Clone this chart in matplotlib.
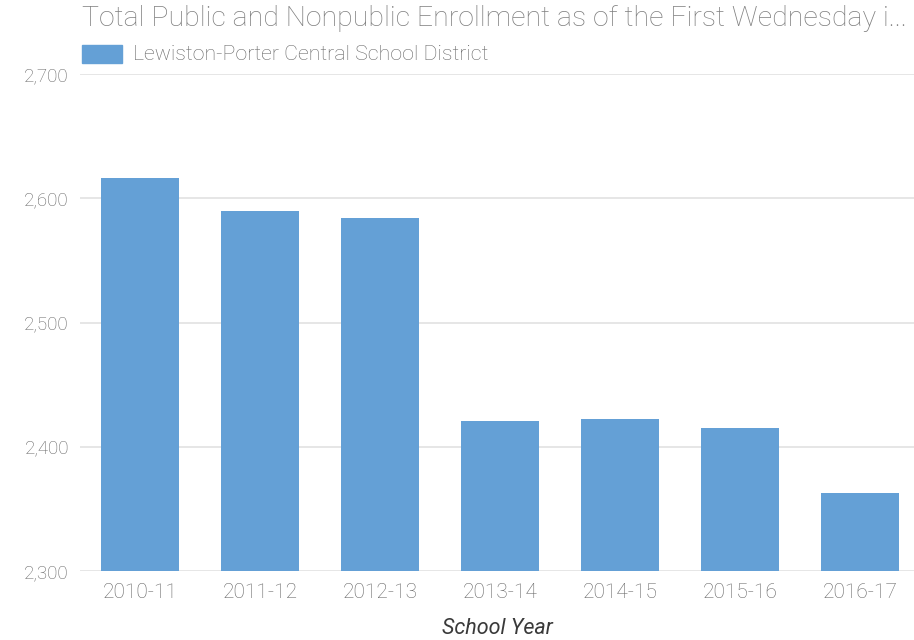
import matplotlib
matplotlib.use('Agg')
import matplotlib.pyplot as plt
from matplotlib.patches import Rectangle

# data
years = ['2010-11', '2011-12', '2012-13', '2013-14', '2014-15', '2015-16', '2016-17']
enrollment = [2616, 2590, 2584, 2421, 2422, 2415, 2363]
y_ticks = [2300, 2400, 2500, 2600, 2700]
series_name = 'Lewiston-Porter Central School District'
title = 'Total Public and Nonpublic Enrollment as of the First Wednesday i...'

plt.rcParams['font.family'] = ['Roboto', 'DejaVu Sans']

bar_color = '#64a0d6'
text_grey = '#666666'

fig = plt.figure(figsize=(9.14, 6.4), dpi=100)
ax = fig.add_axes([80 / 914, 1 - 571 / 640, 1 - 80 / 914, (571 - 74) / 640])

x = range(len(years))
ax.bar(x, enrollment, width=0.65, color=bar_color, zorder=2)

ax.set_ylim(2300, 2700)
ax.set_xlim(-0.5, 6.45)
ax.set_yticks(y_ticks)
ax.set_yticklabels(['{:,}'.format(v) for v in y_ticks], fontsize=13.5, fontweight='light')
ax.set_xticks(list(x))
ax.set_xticklabels(years, fontsize=15, fontweight='light')

ax.grid(axis='y', color='#e4e4e4', linewidth=1.3, zorder=0)
for s in ax.spines.values():
    s.set_visible(False)
ax.tick_params(axis='both', length=0, labelcolor=text_grey)
ax.tick_params(axis='y', pad=8)
ax.tick_params(axis='x', pad=9)

ax.set_xlabel('School Year', fontsize=15.5, style='italic', color='#3a3a3a', labelpad=11)

# title and legend across the top
fig.text(82 / 914, 1 - 19 / 640, title, fontsize=20.5, color='#7f7f7f',
         va='center', ha='left', fontweight='light')
fig.patches.append(Rectangle((82 / 914, 1 - 63 / 640), 40 / 914, 18 / 640,
                             transform=fig.transFigure, color=bar_color, figure=fig))
fig.text(133 / 914, 1 - 54 / 640, series_name, fontsize=15.4, color=text_grey,
         va='center', ha='left', fontweight='light')

plt.savefig('out.png', dpi=100)
